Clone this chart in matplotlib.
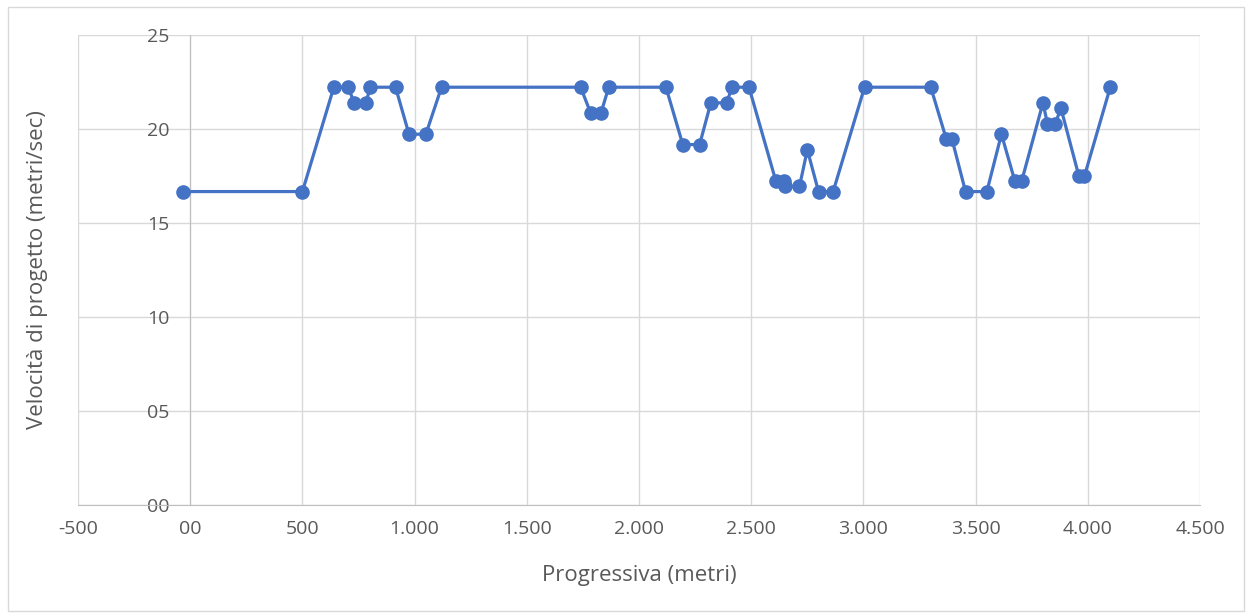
import matplotlib.pyplot as plt
from matplotlib.patches import Rectangle
from matplotlib.ticker import FuncFormatter, MultipleLocator

progressiva = [-30, 500, 640, 705, 730, 785, 800, 915, 975, 1050, 1120,
               1740, 1785, 1830, 1865, 2120, 2195, 2270, 2320, 2390, 2415,
               2490, 2610, 2645, 2650, 2715, 2750, 2800, 2865, 3005, 3300,
               3370, 3395, 3455, 3550, 3615, 3675, 3705, 3800, 3820, 3855,
               3880, 3960, 3985, 4100]
velocita = [16.67, 16.67, 22.22, 22.22, 21.39, 21.39, 22.22, 22.22, 19.72,
            19.72, 22.22, 22.22, 20.83, 20.83, 22.22, 22.22, 19.17, 19.17,
            21.39, 21.39, 22.22, 22.22, 17.22, 17.22, 16.94, 16.94, 18.89,
            16.67, 16.67, 22.22, 22.22, 19.44, 19.44, 16.67, 16.67, 19.72,
            17.22, 17.22, 21.39, 20.28, 20.28, 21.11, 17.5, 17.5, 22.22]

plt.rcParams["font.family"] = ["Open Sans", "DejaVu Sans"]
text_color = "#595959"
grid_color = "#D9D9D9"

fig = plt.figure(figsize=(12.52, 6.13), dpi=100)
fig.patches.append(Rectangle((0.006, 0.003), 0.988, 0.985, transform=fig.transFigure,
                             fill=False, edgecolor=grid_color, linewidth=1))
ax = fig.add_axes([0.0623, 0.1762, 0.8962, 0.7668])

ax.plot(progressiva, velocita, color="#4472C4", linewidth=2.3,
        marker="o", markersize=9.5, zorder=3, clip_on=False)

ax.set_xlim(-500, 4500)
ax.set_ylim(0, 25)
ax.xaxis.set_major_locator(MultipleLocator(500))
ax.yaxis.set_major_locator(MultipleLocator(5))


def fmt_x(v, pos):
    v = int(round(v))
    if v == 0:
        return "00"
    return f"{v:,}".replace(",", ".")


ax.xaxis.set_major_formatter(FuncFormatter(fmt_x))
ax.yaxis.set_major_formatter(FuncFormatter(lambda v, pos: f"{int(round(v)):02d}"))

ax.grid(True, color=grid_color, linewidth=1)
ax.set_axisbelow(True)
for side in ["top", "right"]:
    ax.spines[side].set_visible(False)
ax.spines["left"].set_position(("data", 0))
ax.spines["left"].set_color("#BFBFBF")
ax.spines["bottom"].set_color("#BFBFBF")
ax.tick_params(axis="both", length=0, labelsize=14, colors=text_color)
ax.tick_params(axis="y", pad=15)
ax.tick_params(axis="x", pad=11)

ax.set_xlabel("Progressiva (metri)", fontsize=16, color=text_color, labelpad=19)
ax.set_ylabel("Velocità di progetto (metri/sec)", fontsize=16, color=text_color)
ax.yaxis.set_label_coords(-0.027, 0.5)

fig.savefig("out.png", dpi=100)
